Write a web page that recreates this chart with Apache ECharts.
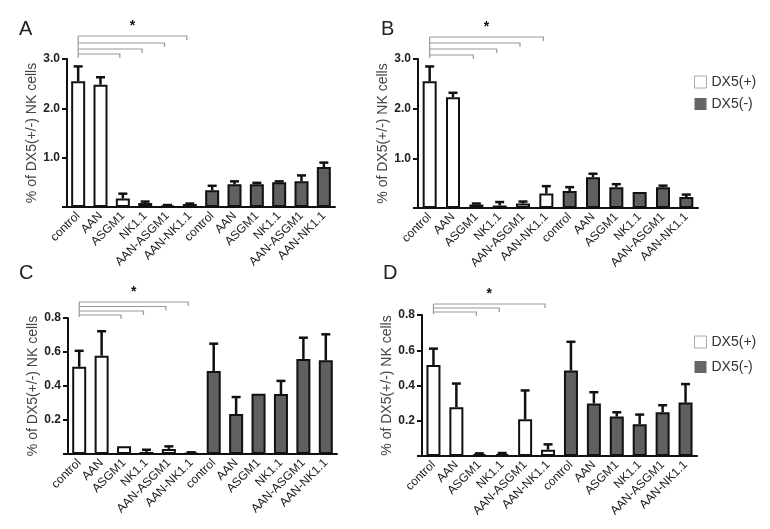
<!DOCTYPE html>
<html>
<head>
<meta charset="utf-8">
<script src="https://cdn.jsdelivr.net/npm/echarts@6/dist/echarts.min.js"></script>
<style>
  html, body { margin: 0; padding: 0; background: #fff; }
  #chart { width: 770px; height: 529px; }
</style>
</head>
<body>
<div id="chart"></div>
<script>
// 分组名称 (前6个 DX5(+), 后6个 DX5(-))
var categories = ['control', 'AAN', 'ASGM1', 'NK1.1', 'AAN-ASGM1', 'AAN-NK1.1',
                  'control', 'AAN', 'ASGM1', 'NK1.1', 'AAN-ASGM1', 'AAN-NK1.1'];

// 各面板均值
var meanA = [2.55, 2.48, 0.17, 0.08, 0.03, 0.06, 0.34, 0.46, 0.46, 0.50, 0.52, 0.81];
var meanB = [2.55, 2.23, 0.07, 0.05, 0.09, 0.29, 0.34, 0.62, 0.42, 0.32, 0.42, 0.22];
var meanC = [0.513, 0.578, 0.045, 0.012, 0.03, 0.006, 0.488, 0.235, 0.355, 0.353, 0.559, 0.551];
var meanD = [0.516, 0.277, 0.01, 0.01, 0.209, 0.036, 0.485, 0.298, 0.224, 0.18, 0.248, 0.303];

// 误差 (SEM, 只画上半)
var errA = [0.30, 0.15, 0.10, 0.03, 0.01, 0.01, 0.09, 0.06, 0.03, 0.02, 0.12, 0.09];
var errB = [0.30, 0.09, 0.02, 0.07, 0.04, 0.15, 0.08, 0.07, 0.06, 0, 0.03, 0.05];
var errC = [0.094, 0.144, 0, 0.013, 0.015, 0.004, 0.161, 0.10, 0, 0.077, 0.125, 0.153];
var errD = [0.093, 0.134, 0.005, 0.007, 0.163, 0.03, 0.163, 0.064, 0.024, 0.055, 0.04, 0.105];

// y 轴刻度
var ticksAB = [1.0, 2.0, 3.0];
var ticksCD = [0.2, 0.4, 0.6, 0.8];

// 显著性括号: control 对比的组 (下标)
var sigA = [2, 3, 4, 5];
var sigB = [2, 3, 4, 5];
var sigC = [2, 3, 4, 5];
var sigD = [2, 3, 5];

var means = [meanA, meanB, meanC, meanD];
var errs = [errA, errB, errC, errD];
var sigs = [sigA, sigB, sigC, sigD];
var yTicks = [ticksAB, ticksAB, ticksCD, ticksCD];

var FONT = 'Liberation Sans, Arial, sans-serif';

var grids = [
  { left: 67, top: 59, width: 268, height: 148 },
  { left: 418, top: 59, width: 280, height: 149 },
  { left: 68, top: 318, width: 269, height: 136 },
  { left: 422, top: 315, width: 275, height: 141 }
];
// 括号线的高度 (相对于网格顶部, 像素)
var bracketOffsets = [[-5, -10, -16, -23], [-4, -10, -16, -22], [-3, -7, -11.5, -16], [-3, -7, -11]];

var chart = echarts.init(document.getElementById('chart'));

var xAxes = [], yAxes = [], series = [], titles = [];

grids.forEach(function (g, k) {
  var ticks = yTicks[k];
  var maxV = ticks[ticks.length - 1];
  var step = ticks[1] - ticks[0];
  xAxes.push({
    type: 'category',
    gridIndex: k,
    data: categories,
    axisLine: { lineStyle: { color: '#111', width: 2 } },
    axisTick: { alignWithLabel: true, length: 4, lineStyle: { color: '#111', width: 1.5 } },
    axisLabel: { rotate: 45, interval: 0, margin: 7, fontSize: 12, color: '#222', fontFamily: FONT }
  });
  yAxes.push({
    type: 'value',
    gridIndex: k,
    min: 0,
    max: maxV,
    interval: step,
    name: '% of DX5(+/-) NK cells',
    nameLocation: 'middle',
    nameGap: 27,
    nameTextStyle: { fontSize: 14, color: '#444', fontFamily: FONT },
    axisLine: { show: true, lineStyle: { color: '#111', width: 2 } },
    axisTick: { show: true, length: 5, lineStyle: { color: '#111', width: 2 } },
    splitLine: { show: false },
    axisLabel: {
      margin: 7, fontSize: 12, fontWeight: 'bold', color: '#222', fontFamily: FONT,
      formatter: function (v) { return v === 0 ? '' : v.toFixed(1); }
    }
  });
  var m = means[k], e = errs[k];
  series.push({
    name: 'DX5(+)', type: 'bar', xAxisIndex: k, yAxisIndex: k,
    barWidth: 14,
    data: m.map(function (v, i) { return i < 6 ? v : '-'; }),
    itemStyle: { color: '#fff', borderColor: '#111', borderWidth: 2 }
  });
  series.push({
    name: 'DX5(-)', type: 'bar', xAxisIndex: k, yAxisIndex: k,
    barWidth: 14, barGap: '-100%',
    data: m.map(function (v, i) { return i >= 6 ? v : '-'; }),
    itemStyle: { color: '#606060', borderColor: '#111', borderWidth: 2 }
  });
  series.push({
    type: 'custom', xAxisIndex: k, yAxisIndex: k, z: 5,
    data: m.map(function (v, i) { return [i, v, e[i]]; }),
    encode: { x: 0, y: 1 },
    renderItem: function (params, api) {
      var x = api.value(0), mv = api.value(1), ev = api.value(2);
      if (!ev) return;
      var p0 = api.coord([x, mv]);
      var p1 = api.coord([x, mv + ev]);
      var st = { stroke: '#111', lineWidth: 2.5 };
      return {
        type: 'group',
        children: [
          { type: 'line', shape: { x1: p0[0], y1: p0[1], x2: p1[0], y2: p1[1] }, style: st },
          { type: 'line', shape: { x1: p1[0] - 4.5, y1: p1[1], x2: p1[0] + 4.5, y2: p1[1] }, style: st }
        ]
      };
    }
  });
});

titles = [
  { text: 'A', left: 14, top: 14 },
  { text: 'B', left: 376, top: 14 },
  { text: 'C', left: 14, top: 258 },
  { text: 'D', left: 378, top: 258 }
].map(function (t) {
  t.textStyle = { fontSize: 20, fontWeight: 'normal', color: '#222', fontFamily: FONT };
  return t;
});

var legendData = [
  { name: 'DX5(+)', itemStyle: { color: '#fff', borderColor: '#aaa', borderWidth: 1 } },
  { name: 'DX5(-)', itemStyle: { color: '#666', borderColor: '#666', borderWidth: 0 } }
];
var legendBase = {
  orient: 'vertical', left: 689, itemWidth: 12, itemHeight: 12,
  icon: 'rect', selectedMode: false,
  textStyle: { fontSize: 14, color: '#333', fontFamily: FONT },
  data: legendData
};

chart.setOption({
  animation: false,
  title: titles,
  grid: grids,
  xAxis: xAxes,
  yAxis: yAxes,
  legend: [
    Object.assign({}, legendBase, { top: 70, itemGap: 8 }),
    Object.assign({}, legendBase, { top: 330, itemGap: 11 })
  ],
  series: series
});

// 显著性括号
var graphics = [];
grids.forEach(function (g, k) {
  var top = g.top;
  var x0 = chart.convertToPixel({ gridIndex: k }, [0, 0])[0];
  var offs = bracketOffsets[k];
  var lineStyle = { stroke: '#999', lineWidth: 1.2 };
  var xEndMax = x0;
  sigs[k].forEach(function (idx, j) {
    var xe = chart.convertToPixel({ gridIndex: k }, [idx, 0])[0] - 3;
    var y = top + offs[j];
    xEndMax = Math.max(xEndMax, xe);
    graphics.push({ type: 'polyline', silent: true,
      shape: { points: [[x0, y], [xe, y], [xe, y + 4]] }, style: lineStyle });
  });
  var yTop = top + offs[offs.length - 1];
  graphics.push({ type: 'line', silent: true,
    shape: { x1: x0, y1: yTop, x2: x0, y2: top - 1 }, style: lineStyle });
  graphics.push({ type: 'text', silent: true,
    x: (x0 + xEndMax) / 2, y: yTop - 3,
    style: { text: '*', fill: '#111', align: 'center', verticalAlign: 'bottom', font: 'bold 14px ' + FONT } });
});
chart.setOption({ graphic: graphics });
</script>
</body>
</html>
